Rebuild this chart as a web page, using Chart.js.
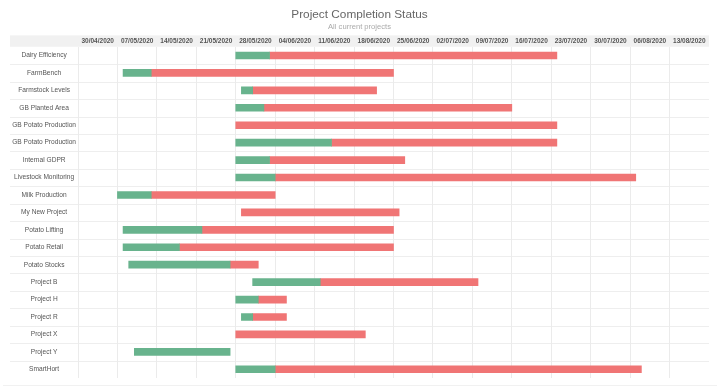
<!DOCTYPE html>
<html>
<head>
<meta charset="utf-8">
<title>Project Completion Status</title>
<script src="https://cdn.jsdelivr.net/npm/chart.js@4.4.0/dist/chart.umd.min.js"></script>
<style>
  html, body { margin: 0; padding: 0; background: #fff; }
  #wrap { position: relative; width: 720px; height: 388px; }
  #edge { position: absolute; left: 3px; right: 3px; top: 385px; height: 1px; background: #f1f1f1; }
</style>
</head>
<body>
<div id="wrap">
  <canvas id="ganttChart"></canvas>
  <div id="edge"></div>
</div>
<script>
// Projects, top to bottom
const projects = [
    'Dairy Efficiency', 'FarmBench', 'Farmstock Levels', 'GB Planted Area',
    'GB Potato Production', 'GB Potato Production', 'Internal GDPR',
    'Livestock Monitoring', 'Milk Production', 'My New Project', 'Potato Lifting',
    'Potato Retail', 'Potato Stocks', 'Project B', 'Project H', 'Project R',
    'Project X', 'Project Y', 'SmartHort'
];

// Start, completed-up-to and end dates (dd/mm/yyyy)
const startDates = [
    '28/05/2020', '08/05/2020', '29/05/2020', '28/05/2020', '28/05/2020', '28/05/2020',
    '28/05/2020', '28/05/2020', '07/05/2020', '29/05/2020', '08/05/2020', '08/05/2020',
    '09/05/2020', '31/05/2020', '28/05/2020', '29/05/2020', '28/05/2020', '10/05/2020',
    '28/05/2020'
];
const progressDates = [
    '03/06/2020', '13/05/2020', '31/05/2020', '02/06/2020', '28/05/2020', '14/06/2020',
    '03/06/2020', '04/06/2020', '13/05/2020', '29/05/2020', '22/05/2020', '18/05/2020',
    '27/05/2020', '12/06/2020', '01/06/2020', '31/05/2020', '28/05/2020', '27/05/2020',
    '04/06/2020'
];
const endDates = [
    '24/07/2020', '25/06/2020', '22/06/2020', '16/07/2020', '24/07/2020', '24/07/2020',
    '27/06/2020', '07/08/2020', '04/06/2020', '26/06/2020', '25/06/2020', '25/06/2020',
    '01/06/2020', '10/07/2020', '06/06/2020', '06/06/2020', '20/06/2020', '27/05/2020',
    '08/08/2020'
];

// Week columns shown along the top
const weekLabels = [
    '30/04/2020', '07/05/2020', '14/05/2020', '21/05/2020', '28/05/2020', '04/06/2020',
    '11/06/2020', '18/06/2020', '25/06/2020', '02/07/2020', '09/07/2020', '16/07/2020',
    '23/07/2020', '30/07/2020', '06/08/2020', '13/08/2020'
];

// Date helpers: values on the x axis are days since the first week column
function parseDate(s) {
    const [d, m, y] = s.split('/').map(Number);
    return Date.UTC(y, m - 1, d);
}
const origin = parseDate(weekLabels[0]);
const toDay = s => (parseDate(s) - origin) / 86400000;
const lastDay = weekLabels.length * 7;

const completed = projects.map((_, i) => {
    const a = toDay(startDates[i]), b = toDay(progressDates[i]);
    return b > a ? [a, b] : null;
});
const remaining = projects.map((_, i) => {
    const a = toDay(progressDates[i]), b = toDay(endDates[i]);
    return b > a ? [a, b] : null;
});

// Header band and row separators (run into the label column)
const ganttBackdrop = {
    id: 'ganttBackdrop',
    beforeDraw(chart) {
        const { ctx, chartArea, scales } = chart;
        const y = scales.y, weeks = scales.weeks;
        ctx.save();
        ctx.fillStyle = '#f1f1f1';
        ctx.fillRect(y.left, weeks.top, chartArea.right - y.left, weeks.bottom - weeks.top);
        ctx.strokeStyle = '#eeeeee';
        ctx.lineWidth = 1;
        for (let i = 1; i < projects.length; i++) {
            const py = Math.round((y.getPixelForTick(i - 1) + y.getPixelForTick(i)) / 2) + 0.5;
            ctx.beginPath();
            ctx.moveTo(y.left, py);
            ctx.lineTo(chartArea.right, py);
            ctx.stroke();
        }
        ctx.restore();
    }
};

Chart.defaults.font.family = "'Liberation Sans', Arial, sans-serif";
Chart.defaults.color = '#555';

const ctx = document.getElementById('ganttChart').getContext('2d');
new Chart(ctx, {
    type: 'bar',
    data: {
        labels: projects,
        datasets: [
            {
                label: 'Completed',
                data: completed,
                backgroundColor: '#68b38d',
                barThickness: 7,
                grouped: false
            },
            {
                label: 'Remaining',
                data: remaining,
                backgroundColor: '#f07575',
                barThickness: 7,
                grouped: false
            }
        ]
    },
    options: {
        indexAxis: 'y',
        responsive: true,
        maintainAspectRatio: false,
        animation: false,
        layout: { padding: { left: 10, right: 11, top: 0, bottom: 10 } },
        scales: {
            x: {
                type: 'linear',
                position: 'top',
                min: 0,
                max: lastDay,
                ticks: { display: false, stepSize: 7, autoSkip: false },
                grid: {
                    drawTicks: false,
                    color: c => (c.tick && c.tick.value >= lastDay) ? 'rgba(0,0,0,0)' : '#ebebeb'
                },
                border: { display: false }
            },
            weeks: {
                axis: 'x',
                type: 'category',
                position: 'top',
                labels: weekLabels,
                offset: true,
                grid: { display: false, drawTicks: false },
                border: { display: false },
                ticks: {
                    font: { size: 6.5, weight: 'bold' },
                    color: '#555',
                    padding: 1.8,
                    maxRotation: 0,
                    autoSkip: false
                }
            },
            y: {
                type: 'category',
                offset: true,
                grid: { display: false, drawTicks: false },
                border: { display: false },
                ticks: {
                    crossAlign: 'center',
                    font: { size: 6.6 },
                    color: '#555',
                    padding: 2,
                    autoSkip: false
                },
                afterFit(scale) { scale.width = 68; }
            }
        },
        plugins: {
            legend: { display: false },
            title: {
                display: true,
                text: 'Project Completion Status',
                color: '#666',
                font: { size: 11.8, weight: 'normal' },
                padding: { top: 8, bottom: 0.5 }
            },
            subtitle: {
                display: true,
                text: 'All current projects',
                color: '#aaa',
                font: { size: 7.6 },
                padding: { top: 0, bottom: 3.6 }
            }
        }
    },
    plugins: [ganttBackdrop]
});
</script>
</body>
</html>
